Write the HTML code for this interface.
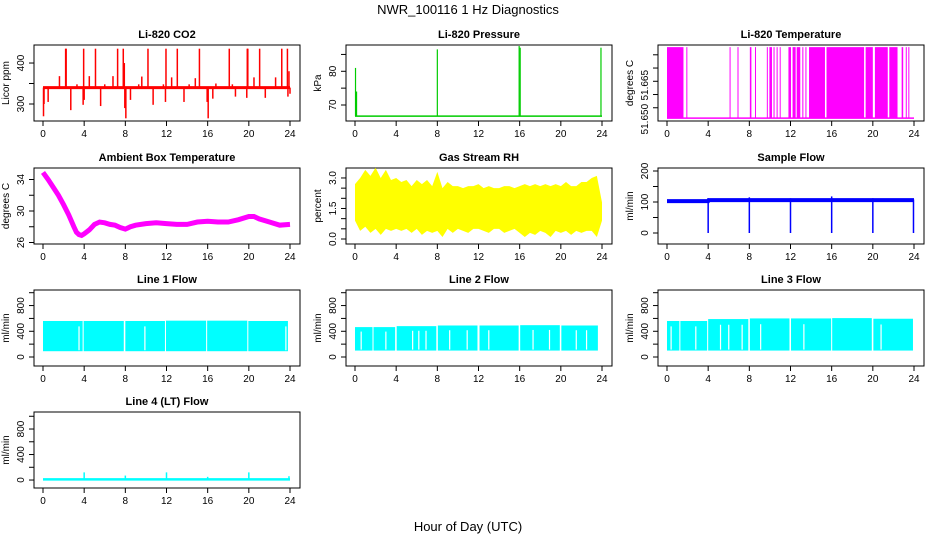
<!DOCTYPE html>
<html><head><meta charset="utf-8">
<style>
html,body{margin:0;padding:0;background:#fff;}
svg{display:block;font-family:"Liberation Sans",Arial,sans-serif;}
</style></head>
<body>
<svg id="chart" width="936" height="540" viewBox="0 0 936 540" xmlns="http://www.w3.org/2000/svg">
<rect width="936" height="540" fill="#fff"/>
<text x="468" y="14" font-size="13" text-anchor="middle">NWR_100116  1 Hz Diagnostics</text>
<text x="468" y="531" font-size="13" text-anchor="middle">Hour of Day (UTC)</text>
</svg>
<script>
// ---- data ----
var xTicks = [0,4,8,12,16,20,24];
var co2Base = 340;
var co2SpikeTimes = [0.05,0.1,0.5,1.6,2.2,2.25,2.7,3.3,3.9,3.95,4.0,4.5,5.1,5.6,6.0,6.8,7.25,7.8,7.9,7.95,8.05,8.5,9.3,9.6,10.2,10.7,11.7,11.9,11.95,12.5,13.05,13.7,14.2,14.8,15.2,15.95,16.05,16.5,16.8,18.1,18.4,18.7,19.8,19.85,19.9,20.5,21.05,21.6,22.6,23.2,23.75,23.8,23.9,24.0];
var co2SpikeValues = [270,300,305,368,435,435,285,348,298,435,310,368,435,295,348,368,435,435,400,290,265,310,348,367,435,298,348,305,435,365,435,305,348,363,435,305,265,313,350,435,348,318,315,435,435,365,435,315,365,435,435,318,380,325];
var presBase = 66.7;
var presSpikeTimes = [0.05,0.15,8.0,15.95,16.05,23.9];
var presSpikeValues = [81,74,86.5,87.5,87,87];
var tempLow = 51.6511, tempHigh = 51.6779;
var tempHighStart = [0,1.88,6.08,6.85,8.05,8.55,9.7,9.95,10.35,10.65,10.95,11.8,12.2,12.6,13.15,13.45,13.8,15.5,19.3,20.2,21.6,22.8,23.2,23.45];
var tempHighEnd   = [1.6,1.95,6.13,6.9,8.2,8.6,9.75,10.2,10.45,10.75,11.0,12.05,12.5,12.95,13.25,13.55,15.35,19.15,20.0,21.45,22.4,22.95,23.25,23.5];
var ambTimes = [0,0.5,1,1.5,2,2.5,3,3.25,3.5,3.75,4,4.5,5,5.5,6,6.5,7,7.5,8,8.5,9,10,11,12,13,14,15,16,17,18,19,20,20.5,21,22,23,24];
var ambValues = [34.9,34,33,32,30.8,29.5,28,27.3,27,26.9,27.1,27.6,28.3,28.6,28.5,28.3,28.2,27.9,27.7,28.0,28.2,28.4,28.5,28.4,28.3,28.3,28.6,28.7,28.6,28.6,28.9,29.3,29.3,29,28.6,28.2,28.3];
var rhTimes = [0,0.5,1,1.5,2,2.5,3,3.5,4,4.5,5,5.5,6,6.5,7,7.5,8,8.5,9,9.5,10,10.5,11,11.5,12,12.5,13,13.5,14,14.5,15,15.5,16,16.5,17,17.5,18,18.5,19,19.5,20,20.5,21,21.5,22,22.5,23,23.5,24];
var rhHigh = [2.7,3.0,3.4,3.1,3.5,3.0,3.4,2.9,3.0,2.8,2.9,2.6,2.9,2.7,2.9,2.6,3.3,2.5,2.8,2.6,2.6,2.5,2.6,2.6,2.7,2.5,2.6,2.5,2.5,2.6,2.6,2.5,2.6,2.7,2.6,2.7,2.6,2.7,2.6,2.7,2.6,2.8,2.6,2.6,2.8,2.8,3.0,3.1,1.8];
var rhLow  = [0.9,0.4,0.6,0.3,0.5,0.2,0.5,0.4,0.5,0.4,0.5,0.3,0.5,0.2,0.4,0.3,0.4,0.1,0.5,0.3,0.5,0.4,0.3,0.5,0.5,0.4,0.3,0.5,0.5,0.3,0.4,0.5,0.3,0.1,0.3,0.2,0.4,0.3,0.1,0.4,0.3,0.4,0.2,0.4,0.3,0.4,0.4,0.1,0.9];
var sfTimes = [0,4,4.05,24];
var sfValues = [103,103,106,106];
var sfDropTimes = [4,8,12,16,20,23.95];
var sfPeakValues = [112,115,112,118,112,108];
var l1Low = 90, l1High = [560,560,560,565,565,560];
var l1Segments = [0,3.85,3.95,7.85,8.0,11.85,11.95,15.85,15.95,19.85,19.95,23.8];
var l1Gaps = [3.5,9.9,23.6];
var l2High = [465,480,490,490,495,490];
var l2Low = 100;
var l2Segments = [0,1.7,1.8,3.9,4.05,7.9,8.05,11.9,12.1,15.9,16.05,19.9,20.05,23.6];
var l2Gaps = [0.6,3.0,5.6,6.2,6.9,9.2,10.9,13.0,17.3,18.9,21.5,22.5];
var l3High = [560,590,600,600,605,595];
var l3Low = 100;
var l3Segments = [0,1.2,1.3,3.9,4.0,7.9,8.05,11.9,12.05,15.95,16.05,19.9,20.05,23.9];
var l3Gaps = [0.4,2.8,5.2,6.0,7.3,9.1,13.3,20.8];
var l4Base = 10;
var l4SpikeTimes = [4,8,12,16,20,23.9];
var l4SpikeValues = [120,70,120,50,120,60];

// ---- layout ----
var svg = document.getElementById('chart');
var NS = 'http://www.w3.org/2000/svg';
var colLeft = [34,346,658], rowTop = [45,168,290,412], BW = 266, BH = 76;
function el(tag, parent){ var e = document.createElementNS(NS, tag); parent.appendChild(e); return e; }
function panel(col,row,lo,hi,title,ylab,ticks,labels,name){
  var L = colLeft[col], T = rowTop[row];
  var g = el('g', svg);
  
  
  var p = {g:g, L:L, T:T,
    x:function(t){ return L+9+t/24*247; },
    y:function(v){ return T+BH-(v-lo)/(hi-lo)*BH; }};
  var box = el('rect', g);
  box.setAttribute('x',L); box.setAttribute('y',T); box.setAttribute('width',BW); box.setAttribute('height',BH);
  box.setAttribute('fill','none'); box.setAttribute('stroke','#000');
  
  
  var tt = el('text', g); tt.textContent = title;
  tt.setAttribute('x', L+BW/2); tt.setAttribute('y', T-7); tt.setAttribute('font-size','11'); tt.setAttribute('font-weight','bold'); tt.setAttribute('text-anchor','middle');
  
  
  var yl = el('text', g); yl.textContent = ylab;
  yl.setAttribute('transform','translate('+(L-25)+','+(T+BH/2)+') rotate(-90)'); yl.setAttribute('font-size','10'); yl.setAttribute('text-anchor','middle');
  
  
  xTicks.forEach(function(t){
    var l = el('line', g); l.setAttribute('x1',p.x(t)); l.setAttribute('x2',p.x(t)); l.setAttribute('y1',T+BH); l.setAttribute('y2',T+BH+5); l.setAttribute('stroke','#000');
    
    
    var tx = el('text', g); tx.textContent = t; tx.setAttribute('x',p.x(t)); tx.setAttribute('y',T+BH+16); tx.setAttribute('font-size','10'); tx.setAttribute('text-anchor','middle');
    
    
  });
  ticks.forEach(function(v){
    var l = el('line', g); l.setAttribute('x1',L); l.setAttribute('x2',L-5); l.setAttribute('y1',p.y(v)); l.setAttribute('y2',p.y(v)); l.setAttribute('stroke','#000');
    
    
  });
  labels.forEach(function(a){
    var tx = el('text', g); tx.textContent = a[1];
    tx.setAttribute('transform','translate('+(L-10)+','+p.y(a[0])+') rotate(-90)'); tx.setAttribute('font-size','10'); tx.setAttribute('text-anchor','middle');
    
    
  });
  return p;
}
function line(p,x1,y1,x2,y2,c,w,name){
  var l = el('line', p.g); l.setAttribute('x1',x1); l.setAttribute('y1',y1); l.setAttribute('x2',x2); l.setAttribute('y2',y2);
  l.setAttribute('stroke',c); l.setAttribute('stroke-width',w);
  
  
  return l;
}
function rect(p,x1,y1,x2,y2,c,name){
  var r = el('rect', p.g); r.setAttribute('x',Math.min(x1,x2)); r.setAttribute('y',Math.min(y1,y2));
  r.setAttribute('width',Math.max(1,Math.abs(x2-x1))); r.setAttribute('height',Math.abs(y2-y1)); r.setAttribute('fill',c);
  
  
}

// CO2
var p = panel(0,0,258.5,444,'Li-820 CO2','Licor ppm',[300,350,400],[[300,'300'],[400,'400']],'co2-panel');
line(p,p.x(0),p.y(co2Base),p.x(24),p.y(co2Base),'#f00',3,'co2-baseline');
co2SpikeTimes.forEach(function(t,i){ line(p,p.x(t),p.y(co2Base),p.x(t),p.y(co2SpikeValues[i]),'#f00',1.5,'co2-spike'); });

// Pressure
p = panel(1,0,65.25,87.8,'Li-820 Pressure','kPa',[70,75,80,85],[[70,'70'],[80,'80']],'pressure-panel');
line(p,p.x(0),p.y(presBase),p.x(24),p.y(presBase),'#0c0',1.5,'pressure-baseline');
presSpikeTimes.forEach(function(t,i){ line(p,p.x(t),p.y(presBase),p.x(t),p.y(presSpikeValues[i]),'#0c0',1.2,'pressure-spike'); });

// Li-820 temperature
p = panel(2,0,51.650,51.6787,'Li-820 Temperature','degrees C',[51.655,51.660,51.665,51.670,51.675],[],'licor-temp-panel');
[[51.6507,'51.650'],[51.6635,'51.665']].forEach(function(a){
  var tx = el('text', p.g); tx.textContent = a[1];
  tx.setAttribute('transform','translate('+(p.L-10)+','+p.y(a[0])+') rotate(-90)'); tx.setAttribute('font-size','10'); tx.setAttribute('text-anchor','middle');
  
  
});
line(p,p.x(0),p.y(tempLow),p.x(24),p.y(tempLow),'#f0f',1.5,'temp-baseline');
tempHighStart.forEach(function(s,i){ rect(p,p.x(s),p.y(tempHigh),p.x(tempHighEnd[i]),p.y(tempLow),'#f0f','temp-high-block'); });

// Ambient
p = panel(0,1,25.81,35.46,'Ambient Box Temperature','degrees C',[26,28,30,32,34],[[26,'26'],[30,'30'],[34,'34']],'ambient-panel');
var pl = el('polyline', p.g);
pl.setAttribute('points', ambTimes.map(function(t,i){ return p.x(t)+','+p.y(ambValues[i]); }).join(' '));
pl.setAttribute('fill','none'); pl.setAttribute('stroke','#f0f'); pl.setAttribute('stroke-width','5');



// RH
p = panel(1,1,-0.246,3.49,'Gas Stream RH','percent',[0,0.5,1,1.5,2,2.5,3],[[0,'0.0'],[1.5,'1.5'],[3,'3.0']],'rh-panel');
var pts = rhTimes.map(function(t,i){ return p.x(t)+','+p.y(rhHigh[i]); });
for (var i = rhTimes.length-1; i >= 0; i--) pts.push(p.x(rhTimes[i])+','+p.y(rhLow[i]));
var pg = el('polygon', p.g); pg.setAttribute('points', pts.join(' ')); pg.setAttribute('fill','#ff0');



// Sample flow
p = panel(2,1,-35.5,209.7,'Sample Flow','ml/min',[0,50,100,150,200],[[0,'0'],[100,'100'],[200,'200']],'sample-flow-panel');
var sp = el('polyline', p.g);
sp.setAttribute('points', sfTimes.map(function(t,i){ return p.x(t)+','+p.y(sfValues[i]); }).join(' '));
sp.setAttribute('fill','none'); sp.setAttribute('stroke','#00f'); sp.setAttribute('stroke-width','4');


sfDropTimes.forEach(function(t,i){ line(p,p.x(t),p.y(sfPeakValues[i]),p.x(t),p.y(0),'#00f',1.5,'sample-flow-drop'); });

// Line flows
function flowPanel(col,row,title,name,lowV,highs,segs,gaps){
  var q = panel(col,row,-140,1042,title,'ml/min',[0,200,400,600,800,1000],[[0,'0'],[400,'400'],[800,'800']],name);
  for (var k = 0; k < segs.length; k += 2){
    var mid = (segs[k]+segs[k+1])/2;
    var hv = highs[Math.min(highs.length-1, Math.floor(mid/4))];
    rect(q,q.x(segs[k]),q.y(hv),q.x(segs[k+1]),q.y(lowV),'#0ff','flow-band');
  }
  gaps.forEach(function(t){
    var hv = highs[Math.min(highs.length-1, Math.floor(t/4))];
    line(q,q.x(t),q.y(hv*0.85),q.x(t),q.y(lowV+15),'#fff',1.2,'flow-gap');
  });
  return q;
}
flowPanel(0,2,'Line 1 Flow','line1-panel',l1Low,l1High,l1Segments,l1Gaps);
flowPanel(1,2,'Line 2 Flow','line2-panel',l2Low,l2High,l2Segments,l2Gaps);
flowPanel(2,2,'Line 3 Flow','line3-panel',l3Low,l3High,l3Segments,l3Gaps);

// Line 4
p = panel(0,3,-125,1067,'Line 4 (LT) Flow','ml/min',[0,200,400,600,800,1000],[[0,'0'],[400,'400'],[800,'800']],'line4-panel');
line(p,p.x(0),p.y(l4Base),p.x(24),p.y(l4Base),'#0ff',2.5,'line4-baseline');
l4SpikeTimes.forEach(function(t,i){ line(p,p.x(t),p.y(l4Base),p.x(t),p.y(l4SpikeValues[i]),'#0ff',1.5,'line4-spike'); });
</script>
</body></html>
